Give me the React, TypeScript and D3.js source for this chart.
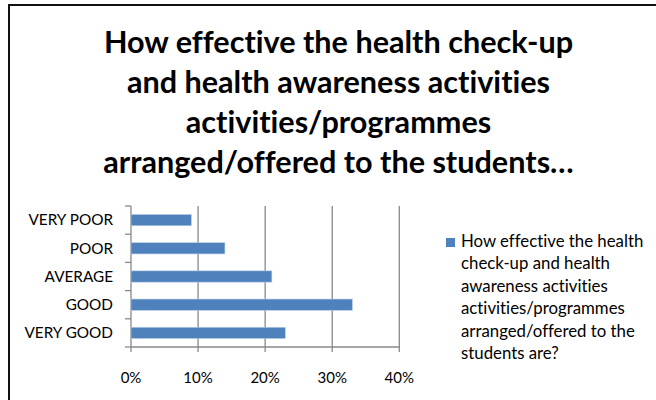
import React from "react";
import * as d3 from "d3";

const categories = ["VERY POOR", "POOR", "AVERAGE", "GOOD", "VERY GOOD"];
const values = [9, 14, 21, 33, 23];
const xTicks = [0, 10, 20, 30, 40];
const titleLines = [
  "How effective the health check-up",
  "and health awareness activities",
  "activities/programmes",
  "arranged/offered to the students…",
];
const legendLines = [
  "How effective the health",
  "check-up and health",
  "awareness activities",
  "activities/programmes",
  "arranged/offered to the",
  "students are?",
];

const W = 656;
const H = 400;
const FONT = "Lato, 'Open Sans', sans-serif";

export default function App() {
  const plot = { left: 131, right: 399.3, top: 206, bottom: 347 };
  const x = d3.scaleLinear().domain([0, 40]).range([plot.left, plot.right]);
  const y = d3
    .scaleBand<string>()
    .domain(categories)
    .range([plot.top, plot.bottom])
    .paddingInner(0.6)
    .paddingOuter(0.3);
  const boundaries = d3.range(categories.length + 1).map((i) => plot.top + i * ((plot.bottom - plot.top) / categories.length));

  return (
    <div style={{ position: "fixed", left: 0, top: 0, width: W, height: H, background: "#fff" }}>
      <svg width={W} height={H} style={{ display: "block", fontVariantLigatures: "none" }}>
        <rect x={0} y={0} width={W} height={H} fill="#fff" />
        {/* frame */}
        <line x1={8} x2={W} y1={5} y2={5} stroke="#111" strokeWidth={2} />
        <line x1={9} x2={9} y1={4} y2={H} stroke="#111" strokeWidth={2} />

        {/* title */}
        {titleLines.map((t, i) => (
          <text
            key={i}
            x={338.5}
            y={53 + i * 40}
            textAnchor="middle"
            fontFamily={FONT}
            fontWeight="bold"
            fontSize={30.6}
            fill="#000"
          >
            {t}
          </text>
        ))}

        {/* gridlines */}
        {xTicks.map((t) => (
          <line
            key={"g" + t}
            x1={x(t)}
            x2={x(t)}
            y1={plot.top}
            y2={plot.bottom + 5}
            stroke="#888"
            strokeWidth={1.3}
          />
        ))}
        {/* y axis ticks */}
        {boundaries.map((b, i) => (
          <line key={"yt" + i} x1={plot.left - 6} x2={plot.left} y1={b} y2={b} stroke="#888" strokeWidth={1.3} />
        ))}
        {/* x axis line */}
        <line x1={plot.left} x2={plot.right} y1={plot.bottom} y2={plot.bottom} stroke="#888" strokeWidth={1.3} />

        {/* bars */}
        {categories.map((c, i) => (
          <rect
            key={c}
            x={x(0)}
            y={y(c)!}
            width={x(values[i]) - x(0)}
            height={y.bandwidth()}
            fill="#4F81BD"
            stroke="#B9CDE5"
            strokeWidth={0.6}
          />
        ))}

        {/* category labels */}
        {categories.map((c) => (
          <text
            key={"l" + c}
            x={113}
            y={(y(c) ?? 0) + y.bandwidth() / 2}
            dy="0.35em"
            textAnchor="end"
            fontFamily={FONT}
            fontSize={15.3}
            fill="#000"
          >
            {c}
          </text>
        ))}

        {/* x tick labels */}
        {xTicks.map((t) => (
          <text
            key={"xl" + t}
            x={x(t)}
            y={383}
            textAnchor="middle"
            fontFamily={FONT}
            fontSize={15}
            fill="#000"
          >
            {t + "%"}
          </text>
        ))}

        {/* legend */}
        <rect x={446} y={238} width={9} height={9} fill="#4F81BD" />
        {legendLines.map((t, i) => (
          <text
            key={"lg" + i}
            x={461}
            y={247 + i * 22.4}
            fontFamily={FONT}
            fontSize={16.8}
            fill="#000"
          >
            {t}
          </text>
        ))}
      </svg>
    </div>
  );
}
